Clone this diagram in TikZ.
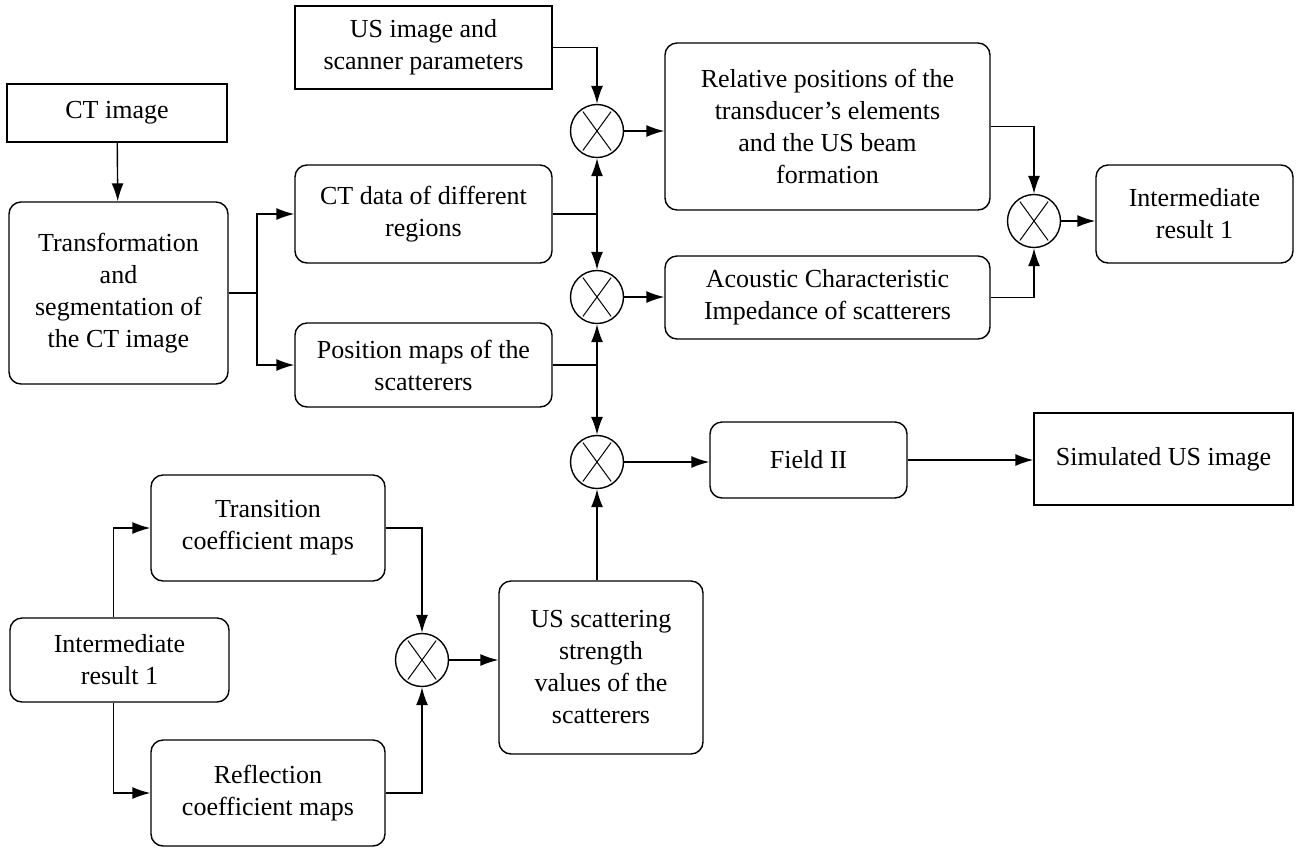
\documentclass[tikz,border=0pt]{standalone}
\usepackage{fontspec}
\setmainfont{Liberation Serif}
\usepackage{tikz}
\usetikzlibrary{arrows.meta}

\begin{document}
\begin{tikzpicture}[x=0.5pt, y=-0.5pt, line width=0.7pt,
        font=\fontsize{13}{16}\selectfont,
        box/.style={draw, align=center, inner sep=0pt},
        rbox/.style={box, rounded corners=6pt},
        mult/.style={draw, circle, minimum size=26.5pt, inner sep=0pt,
            path picture={
                \draw[line width=0.5pt] ([shift={(126:12pt)}]path picture bounding box.center) -- ([shift={(-54:12pt)}]path picture bounding box.center);
                \draw[line width=0.5pt] ([shift={(54:12pt)}]path picture bounding box.center) -- ([shift={(234:12pt)}]path picture bounding box.center);}},
        arr/.style={-{Latex[length=9pt, width=6pt]}}]
                \useasboundingbox (0,0) rectangle (1298,848);
                \node[box, minimum width=128.5pt, minimum height=41.5pt] (usimg) at (423.5,47.5) {US image and\\scanner parameters};
                \node[box, minimum width=110pt, minimum height=29pt] (ctimg) at (117,113) {CT image};
                \node[rbox, minimum width=109.5pt, minimum height=91pt] (trans) at (118.5,293) {Transformation\\and\\segmentation of\\the CT image};
                \node[rbox, minimum width=128.5pt, minimum height=49pt] (ctdata) at (423.5,214) {CT data of different\\regions};
                \node[rbox, minimum width=128.5pt, minimum height=42pt] (posmap) at (423.5,365) {Position maps of the\\scatterers};
                \node[mult] (c1) at (597,131) {};
                \node[mult] (c2) at (597,297) {};
                \node[mult] (c3) at (597,462) {};
                \node[rbox, minimum width=162.5pt, minimum height=83.5pt] (rel) at (827.5,126.5) {Relative positions of the\\transducer's elements\\and the US beam\\formation};
                \node[rbox, minimum width=162.5pt, minimum height=41.5pt] (acou) at (827.5,297.5) {Acoustic Characteristic\\Impedance of scatterers};
                \node[mult] (c4) at (1034,221) {};
                \node[rbox, minimum width=98.5pt, minimum height=49pt] (inter1) at (1194.5,214) {Intermediate\\result 1};
                \node[rbox, minimum width=98.5pt, minimum height=38pt] (field) at (808.5,460) {Field II};
                \node[box, minimum width=129.5pt, minimum height=46pt] (simus) at (1163.5,459) {Simulated US image};
                \node[rbox, minimum width=117pt, minimum height=53pt] (trn) at (268,528) {Transition\\coefficient maps};
                \node[rbox, minimum width=109.5pt, minimum height=42pt] (inter2) at (119.5,660) {Intermediate\\result 1};
                \node[rbox, minimum width=117pt, minimum height=53pt] (refl) at (268,793) {Reflection\\coefficient maps};
                \node[mult] (c5) at (422,660) {};
                \node[rbox, minimum width=102pt, minimum height=86.5pt] (usscat) at (601,667.5) {US scattering\\strength\\values of the\\scatterers};
                \coordinate (split) at (257,293);
                \coordinate (j1) at (ctdata.east -| c1);
                \coordinate (j2) at (posmap.east -| c2);
                \draw[arr] (usimg.east) -| (c1.north);
                \draw[arr] (ctimg) -- (trans);
                \draw (trans.east) -- (split);
                \draw[arr] (split) |- (ctdata.west);
                \draw[arr] (split) |- (posmap.west);
                \draw (ctdata.east) -- (j1);
                \draw[arr] (j1) -- (c1.south);
                \draw[arr] (j1) -- (c2.north);
                \draw (posmap.east) -- (j2);
                \draw[arr] (j2) -- (c2.south);
                \draw[arr] (j2) -- (c3.north);
                \draw[arr] (c1.east) -- (c1.east -| rel.west);
                \draw[arr] (c2.east) -- (c2.east -| acou.west);
                \draw[arr] (rel.east) -| (c4.north);
                \draw[arr] (acou.east) -| (c4.south);
                \draw[arr] (c4.east) -- (c4.east -| inter1.west);
                \draw[arr] (c3.east) -- (c3.east -| field.west);
                \draw[arr] (field.east) -- (field.east -| simus.west);
                \draw[arr] ([xshift=-3pt]inter2.north) |- (trn.west);
                \draw[arr] ([xshift=-3pt]inter2.south) |- (refl.west);
                \draw[arr] (trn.east) -| (c5.north);
                \draw[arr] (refl.east) -| (c5.south);
                \draw[arr] (c5.east) -- (c5.east -| usscat.west);
                \draw[arr] (usscat.north -| c3) -- (c3.south);
            \end{tikzpicture}
\end{document}
